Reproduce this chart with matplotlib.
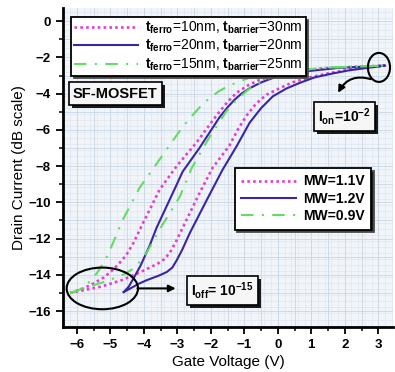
import numpy as np
import matplotlib.pyplot as plt
from matplotlib.patches import Ellipse, Rectangle
from matplotlib.lines import Line2D

plt.rcParams['font.family'] = ['Liberation Sans', 'DejaVu Sans']
plt.rcParams['mathtext.fontset'] = 'custom'
plt.rcParams['mathtext.rm'] = 'Liberation Sans:bold'
plt.rcParams['mathtext.bf'] = 'Liberation Sans:bold'
plt.rcParams['mathtext.it'] = 'Liberation Sans:bold'
plt.rcParams['mathtext.default'] = 'bf'

# --- datos (rama de subida y rama de bajada) ---
# t_ferro=20nm, t_barrier=20nm (MW=1.2V)
azul_sube_x = [-4.60, -4.45, -4.34, -4.10, -3.83, -3.62, -3.14, -2.84, -2.34, -1.74, -1.50, -1.30,
               -1.10, -0.84, -0.50, -0.10, 0.66, 1.85, 3.20]
azul_sube_y = [-14.95, -14.65, -14.30, -13.50, -12.40, -11.40, -9.50, -8.30, -7.00, -5.30, -4.75, -4.35,
               -4.02, -3.70, -3.38, -3.10, -2.80, -2.57, -2.45]
azul_baja_x = [3.20, 2.65, 2.10, 1.65, 1.10, 0.66, 0.25, -0.15, -0.50, -0.84, -1.23, -1.65, -2.13,
               -2.63, -2.85, -3.02, -3.15, -3.32, -3.56, -3.92, -4.16, -4.40, -4.60]
azul_baja_y = [-2.45, -2.58, -2.72, -2.88, -3.10, -3.40, -3.72, -4.15, -4.80, -5.60, -6.90, -8.20, -9.90,
               -11.70, -12.60, -13.20, -13.60, -13.85, -14.05, -14.30, -14.50, -14.75, -14.95]

# t_ferro=10nm, t_barrier=30nm (MW=1.1V)
mag_sube_x = [-6.20, -5.80, -5.48, -5.20, -4.97, -4.75, -4.52, -4.30, -4.04, -3.53, -3.02, -2.43,
              -1.83, -1.50, -1.23, -0.90, -0.60, -0.20, 0.30, 0.90, 1.50, 3.20]
mag_sube_y = [-15.00, -14.75, -14.45, -14.15, -13.80, -13.40, -12.90, -12.20, -11.20, -9.30, -8.00, -6.70,
              -5.20, -4.45, -3.95, -3.55, -3.28, -3.02, -2.82, -2.68, -2.58, -2.45]
mag_baja_x = [3.20, 2.45, 1.90, 1.45, 0.90, 0.45, 0.05, -0.33, -0.65, -0.93, -1.20, -1.44, -1.95,
              -2.34, -2.84, -3.05, -3.23, -3.40, -3.60, -4.10, -4.67, -5.27, -5.80, -6.20]
mag_baja_y = [-2.45, -2.60, -2.74, -2.90, -3.12, -3.37, -3.70, -4.05, -4.55, -5.20, -6.00, -6.85, -8.10,
              -9.50, -11.40, -12.20, -12.80, -13.15, -13.40, -13.85, -14.30, -14.65, -14.85, -15.00]

# t_ferro=15nm, t_barrier=25nm (MW=0.9V)
verde_sube_x = [-6.20, -5.95, -5.77, -5.58, -5.40, -5.22, -5.05, -4.64, -4.13, -3.44, -2.87, -2.55,
                -2.28, -2.04, -1.75, -1.44, -1.15, -0.84, -0.30, 0.36, 1.50, 3.20]
verde_sube_y = [-15.00, -14.85, -14.65, -14.30, -13.90, -13.40, -12.80, -11.00, -9.20, -7.40, -5.90, -5.20,
                -4.64, -4.25, -3.85, -3.55, -3.32, -3.12, -2.90, -2.75, -2.56, -2.45]
verde_baja_x = [3.20, 1.60, 1.00, 0.50, 0.15, -0.20, -0.50, -0.75, -0.93, -1.23, -1.53, -2.04, -2.57,
                -2.93, -3.53, -3.92, -4.13, -4.35, -4.60, -4.90, -5.20, -5.80, -6.20]
verde_baja_y = [-2.45, -2.55, -2.64, -2.76, -2.90, -3.10, -3.35, -3.60, -3.85, -4.35, -4.95, -6.40, -8.10,
                -9.70, -11.50, -12.80, -13.30, -13.70, -13.98, -14.20, -14.40, -14.75, -15.00]

etiquetas_espesor = [r'$t_{ferro}$=10nm, $t_{barrier}$=30nm',
                     r'$t_{ferro}$=20nm, $t_{barrier}$=20nm',
                     r'$t_{ferro}$=15nm, $t_{barrier}$=25nm']
etiquetas_mw = ['MW=1.1V', 'MW=1.2V', 'MW=0.9V']

col_mag = '#e23fcf'
col_azul = '#3a25a6'
col_verde = '#62dc62'

estilos = [dict(color=col_mag, ls=(0, (1, 1.2)), lw=1.9),
           dict(color=col_azul, ls='-', lw=1.5),
           dict(color=col_verde, ls=(0, (6, 4, 1, 4)), lw=1.5)]

fig = plt.figure(figsize=(3.95, 3.72), dpi=100)
ax = fig.add_axes([0.159, 0.121, 0.836, 0.857])
ax.set_facecolor('#f1f5f9')

ax.set_xlim(-6.42, 3.44)
ax.set_ylim(-16.88, 0.72)

# rejilla fina
for gx in np.arange(-6.4, 3.45, 0.2):
    ax.axvline(gx, color='#dfe7ef', lw=0.5, zorder=0)
for gy in np.arange(-16.8, 0.8, 1/3):
    ax.axhline(gy, color='#dfe7ef', lw=0.5, zorder=0)
for gx in np.arange(-6.0, 3.45, 0.5):
    ax.axvline(gx, color='#c9d6e3', lw=0.6, zorder=0)
for gy in np.arange(-16, 0.8, 1):
    ax.axhline(gy, color='#c9d6e3', lw=0.6, zorder=0)

curvas = [(mag_sube_x + mag_baja_x, mag_sube_y + mag_baja_y),
          (azul_sube_x + azul_baja_x, azul_sube_y + azul_baja_y),
          (verde_sube_x + verde_baja_x, verde_sube_y + verde_baja_y)]
for (cx, cy), st, lab in zip(curvas, estilos, etiquetas_espesor):
    ax.plot(cx, cy, label=lab, zorder=3, solid_joinstyle='round', **st)

ax.set_xticks(np.arange(-6, 4, 1))
ax.set_xticks(np.arange(-5.5, 3.5, 1), minor=True)
ax.set_yticks(np.arange(-16, 1, 2))
ax.set_yticks(np.arange(-15, 1, 2), minor=True)
ax.tick_params(which='major', direction='out', length=5, width=1.3, labelsize=9.5)
ax.tick_params(which='minor', direction='out', length=3, width=1.1)
for lab in ax.get_xticklabels() + ax.get_yticklabels():
    lab.set_fontweight('bold')

for s in ['left', 'bottom']:
    ax.spines[s].set_linewidth(2)
for s in ['top', 'right']:
    ax.spines[s].set_visible(False)

ax.set_xlabel('Gate Voltage (V)', fontsize=11, labelpad=3)
ax.set_ylabel('Drain Current (dB scale)', fontsize=11, labelpad=2)

sombra = {'fc': '#1a1a1a', 'alpha': 1}
leg1 = ax.legend(loc='upper left', bbox_to_anchor=(0.005, 0.995), fontsize=10,
                 handlelength=4.6, handletextpad=0.5, borderpad=0.2, labelspacing=0.15,
                 fancybox=False, edgecolor='black', framealpha=1, shadow=sombra)
leg1.get_frame().set_linewidth(1.3)
ax.add_artist(leg1)

manejadores = [Line2D([], [], **st) for st in estilos]
leg2 = ax.legend(manejadores, etiquetas_mw, loc='upper right', bbox_to_anchor=(0.955, 0.52),
                 handlelength=4.0, handletextpad=0.5, borderpad=0.45,
                 labelspacing=0.25, fancybox=False, edgecolor='black', framealpha=1,
                 shadow=sombra, prop={'weight': 'bold', 'size': 10})
leg2.get_frame().set_linewidth(1.3)

cajas = []


def caja(x, y, texto, size):
    t = ax.text(x, y, texto, ha='center', va='center', fontsize=size, fontweight='bold',
                zorder=6, bbox=dict(boxstyle='square,pad=0.3', fc='#f6f6f6', ec='black', lw=1.2))
    cajas.append(t)


caja(-4.85, -4.0, 'SF-MOSFET', 10.5)
caja(1.98, -5.25, r'$I_{on}$=10$^{-2}$', 10)
caja(-1.65, -14.86, r'$I_{off}$= 10$^{-15}$', 10)

ax.add_patch(Ellipse((3.02, -2.55), 0.66, 1.6, fill=False, ec='black', lw=1.5, zorder=4))
ax.add_patch(Ellipse((-5.24, -14.75), 2.13, 2.3, fill=False, ec='black', lw=1.5, zorder=4))

ax.annotate('', xy=(1.8, -3.95), xytext=(2.78, -3.2),
            arrowprops=dict(arrowstyle='-|>', color='black', lw=1.5, mutation_scale=10,
                            connectionstyle='arc3,rad=0.4', shrinkA=0, shrinkB=0), zorder=5)
ax.annotate('', xy=(-3.05, -14.75), xytext=(-4.19, -14.75),
            arrowprops=dict(arrowstyle='-|>', color='black', lw=1.5, mutation_scale=10,
                            shrinkA=0, shrinkB=0), zorder=5)

# sombras de las cajas de texto
fig.canvas.draw()
for t in cajas:
    bb = t.get_bbox_patch().get_window_extent()
    ax.add_patch(Rectangle((bb.x0 + 3, bb.y0 - 3), bb.width, bb.height, transform=None,
                           fc='#1a1a1a', ec='none', zorder=5))

fig.savefig('out.png', dpi=100)
